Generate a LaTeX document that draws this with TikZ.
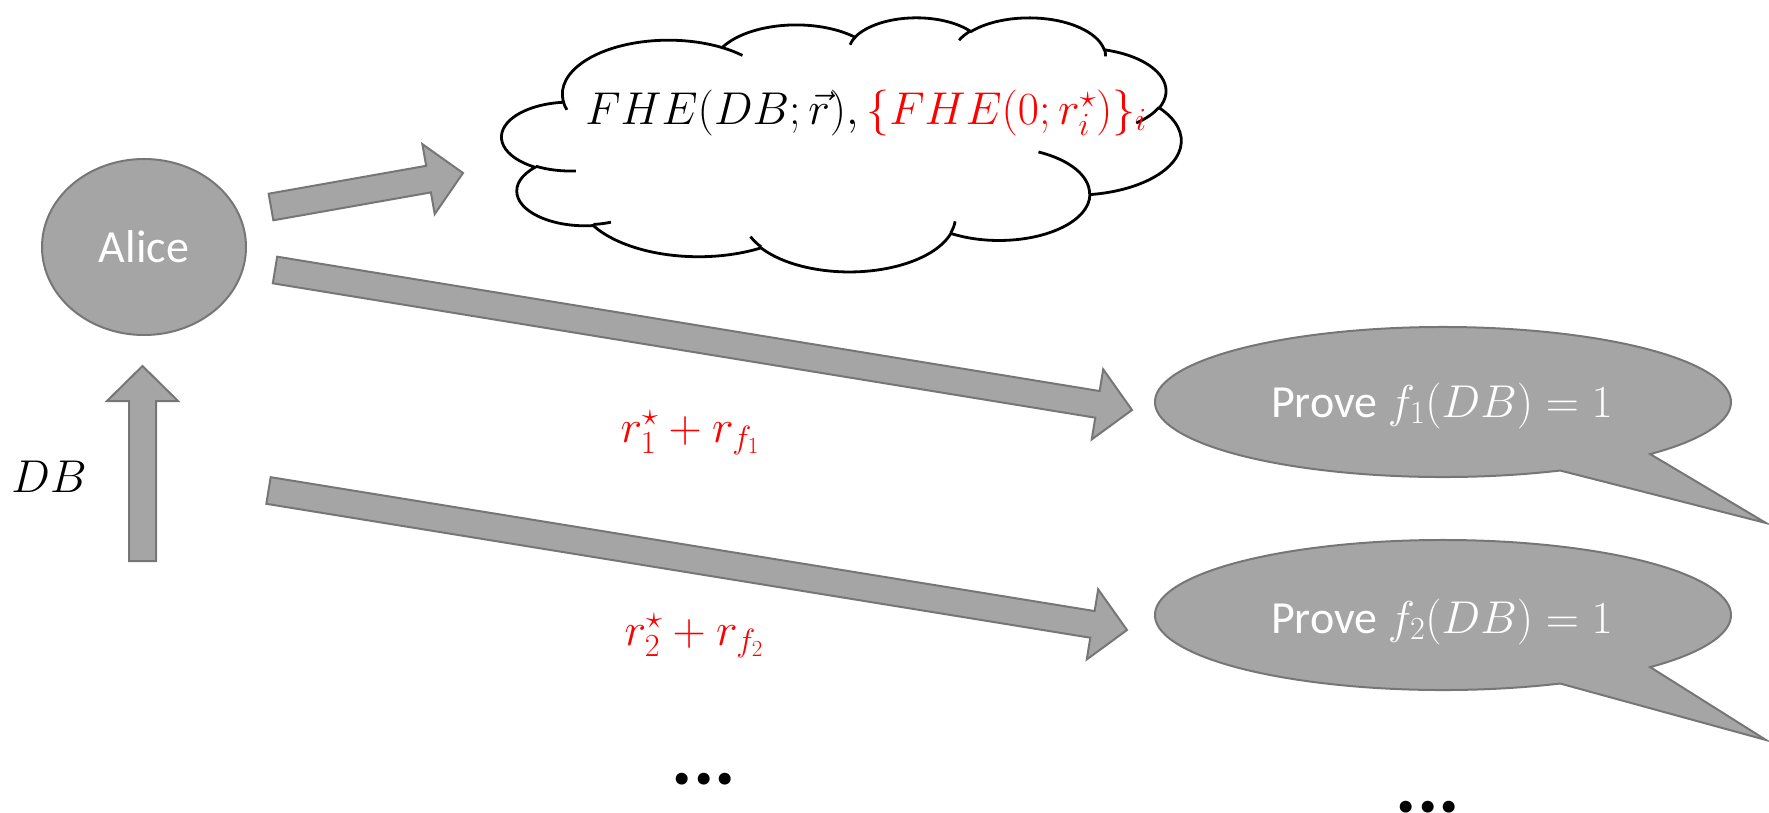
\RequirePackage{fix-cm}
\documentclass[tikz,border=0pt]{standalone}
\usepackage[no-math]{fontspec}
\setmainfont{Carlito}
\usetikzlibrary{calc,shapes.geometric}

\DeclareMathSizes{46}{46}{32.2}{23}
\definecolor{shapegray}{RGB}{165,165,165}
\definecolor{edgegray}{RGB}{118,118,118}
\newcommand\bigtext{\fontsize{46}{55}\selectfont}

% block arrow from #1 to #2 (shaft half width 13.5, head half width 35.5, head length 35)
\newcommand\fatarrow[2]{%
  \coordinate (#1#2h) at ($(#2)!35pt!(#1)$);
  \draw[blockarrow] ($(#1)!13.5pt!90:(#2)$) -- ($(#1#2h)!13.5pt!-90:(#1)$)
    -- ($(#1#2h)!35.5pt!-90:(#1)$) -- (#2) -- ($(#1#2h)!35.5pt!90:(#1)$)
    -- ($(#1#2h)!13.5pt!90:(#1)$) -- ($(#1)!13.5pt!-90:(#2)$) -- cycle;}

% elliptic arc given by radii and start/sweep angles measured geometrically
\newcommand\cloudarc[4]{%
  \pgfextra{%
    \pgfmathparse{atan2((#1)*sin(#3),(#2)*cos(#3))}\global\let\cloudsa\pgfmathresult
    \pgfmathparse{atan2((#1)*sin((#3)+(#4)),(#2)*cos((#3)+(#4)))}\global\let\cloudsb\pgfmathresult
    \pgfmathparse{(\cloudsb)-(\cloudsa)}\global\let\cloudsd\pgfmathresult
    \pgfmathparse{(\cloudsd)-360*round(((\cloudsd)-(#4))/360)}\global\let\cloudsd\pgfmathresult
  }%
  arc[start angle=\cloudsa, delta angle=\cloudsd, x radius=#1, y radius=#2]}

\begin{document}
\begin{tikzpicture}[x=1pt,y=-1pt,
  every node/.style={inner sep=0pt},
  blockarrow/.style={fill=shapegray,draw=edgegray,line width=2pt,line join=miter},
  bubble/.style={fill=shapegray,draw=edgegray,line width=2pt},
  cloudline/.style={draw=black,line width=2.8pt},
  lbl/.style={font=\bigtext,anchor=base},
  dots/.style={font=\fontsize{80}{90}\selectfont\bfseries,anchor=base}]
\useasboundingbox (0,0) rectangle (1769,812);

% Alice
\node[bubble,ellipse,minimum width=204pt,minimum height=176pt,text=white,font=\bigtext]
  (alice) at (144,247) {Alice};

% cloud holding the encrypted data
\begin{scope}[shift={(502,17)},x=1.5718pt,y=-0.5880pt]
  \draw[cloudline,fill=white] (39,143.7)
    \cloudarc{67.53}{91.90}{-190.4875}{123.7805}
    \cloudarc{53.33}{72.67}{-144.1024}{89.9452}
    \cloudarc{43.65}{59.45}{-145.8079}{99.7230}
    \cloudarc{48.57}{65.95}{-130.9861}{117.2417}
    \cloudarc{53.33}{72.73}{-78.7089}{109.0269}
    \cloudarc{67.75}{92.20}{-46.2673}{130.2690}
    \cloudarc{57.85}{78.67}{0.6250}{114.0333}
    \cloudarc{67.52}{92.15}{22.4516}{115.1726}
    \cloudarc{77.20}{105.43}{66.2426}{75.7110}
    \cloudarc{43.60}{59.18}{-274.9421}{146.7356}
    \cloudarc{43.45}{59.45}{-246.8285}{152.5189}
    -- cycle;
  \draw[cloudline]
    (46.93,261.77) \cloudarc{43.45}{59.45}{86.742}{26.4295}
    (69.28,348.99) \cloudarc{43.60}{59.18}{73.6105}{11.4475}
    (164.78,390.90) \cloudarc{67.52}{92.15}{137.6242}{14.0811}
    (288.27,347.51) \cloudarc{67.52}{92.15}{6.4533}{15.9984}
    (341.29,229.54) \cloudarc{57.85}{78.67}{-70.2924}{70.9174}
    (417.98,153.54) \cloudarc{53.33}{72.73}{30.318}{27.7515}
    (383.24,54.26) \cloudarc{48.57}{65.95}{-13.7443}{14.8589}
    (290.78,39.52) \cloudarc{48.57}{65.95}{-149.1815}{18.1954}
    (221.41,47.20) \cloudarc{43.65}{59.45}{-163.4943}{17.6864}
    (140.00,51.92) \cloudarc{67.53}{91.90}{-66.7070}{12.3194}
    (41.27,157.89) \cloudarc{67.53}{91.90}{157.6544}{11.8582};
\end{scope}
\node[lbl] (ctext) at (866,124) {$FHE(DB;\vec{r}),{\color{red}\{FHE(0;r_i^{\star})\}_i}$};

% speech bubbles
\coordinate (tip1) at (1766,523);
\draw[bubble] (1443,402) ++(66:288 and 75)
  arc[start angle=66,end angle=404,x radius=288,y radius=75] -- (tip1) -- cycle;
\node[lbl,text=white] (prove1) at (1442,417) {Prove $f_1(DB)=1$};

\coordinate (tip2) at (1766,740);
\draw[bubble] (1443,615) ++(66:288 and 75)
  arc[start angle=66,end angle=404,x radius=288,y radius=75] -- (tip2) -- cycle;
\node[lbl,text=white] (prove2) at (1442,633) {Prove $f_2(DB)=1$};

% block arrows
\coordinate (dbin) at (142.5,561);
\coordinate (dbout) at (142.5,366);
\coordinate (upA) at (271,207);
\coordinate (upB) at (463,173);
\coordinate (oneA) at (275,270);
\coordinate (oneB) at (1132,410);
\coordinate (twoA) at (268.5,490.5);
\coordinate (twoB) at (1127,630);
\fatarrow{dbin}{dbout}
\fatarrow{upA}{upB}
\fatarrow{oneA}{oneB}
\fatarrow{twoA}{twoB}

% labels
\node[lbl] (db) at (49,492) {$DB$};
\node[lbl,text=red] (key1) at (690,442) {$r_1^{\star}+r_{f_1}$};
\node[lbl,text=red] (key2) at (694,645) {$r_2^{\star}+r_{f_2}$};
\node[dots] (more1) at (704,784) {...};
\node[dots] (more2) at (1428,812) {...};
\end{tikzpicture}
\end{document}
